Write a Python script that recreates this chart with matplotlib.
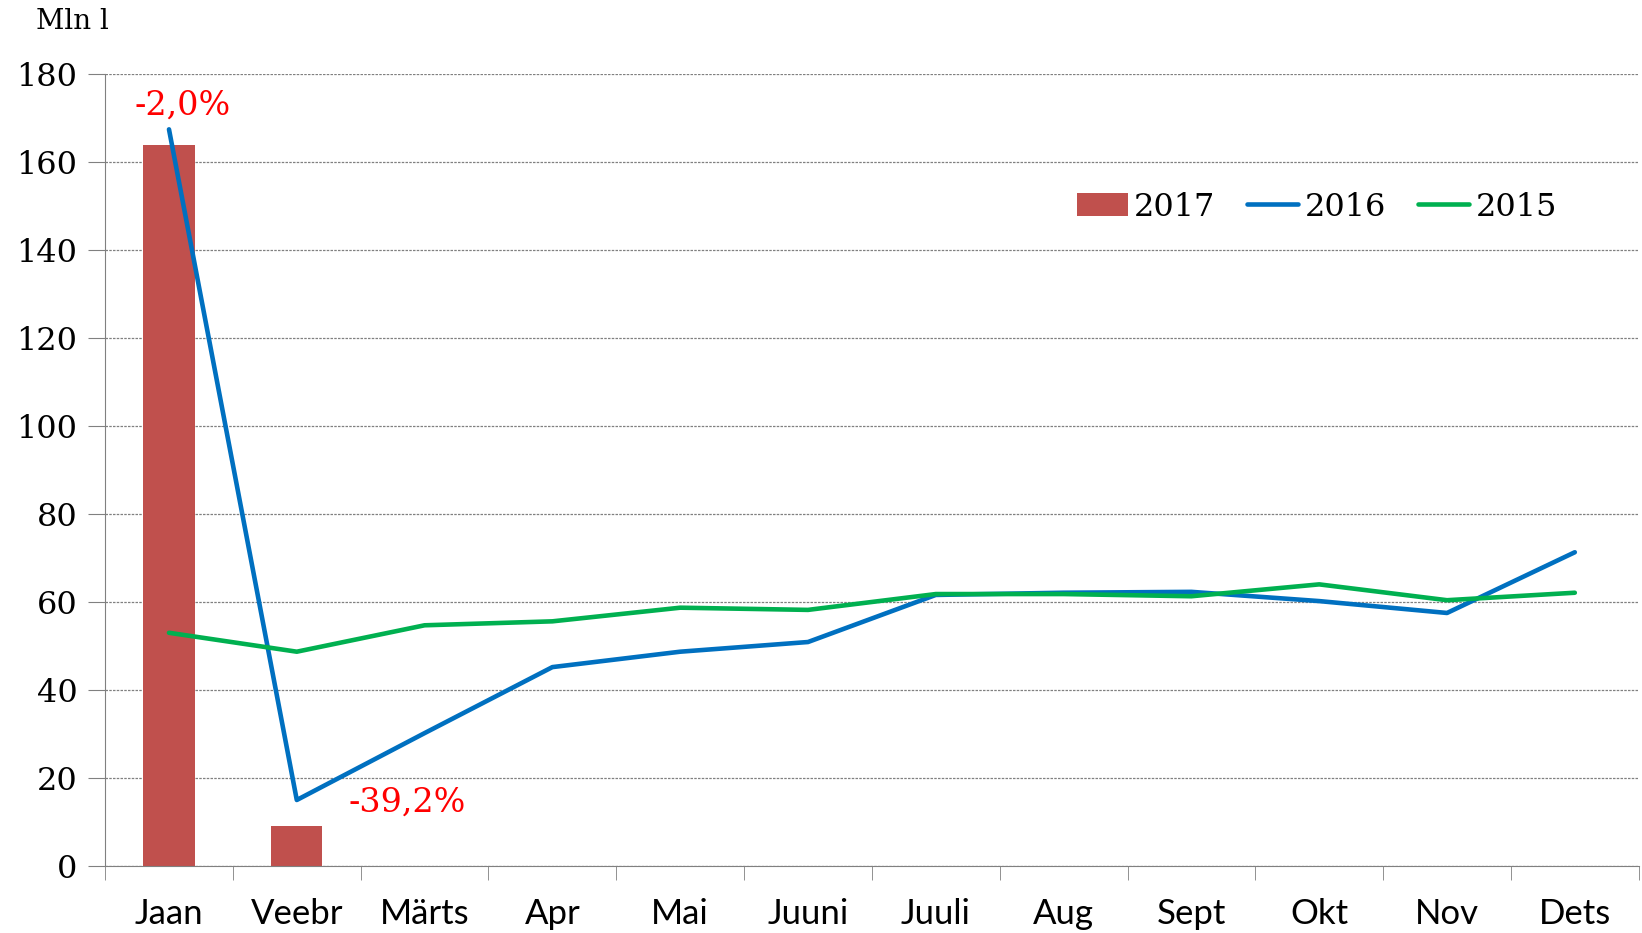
import numpy as np
import matplotlib.pyplot as plt
from matplotlib.ticker import FixedLocator

# data
months = ['Jaan', 'Veebr', 'Märts', 'Apr', 'Mai', 'Juuni', 'Juuli', 'Aug', 'Sept', 'Okt', 'Nov', 'Dets']
y2017 = [163.8, 9.0]
y2016 = [167.4, 15.0, 30.2, 45.2, 48.7, 50.9, 61.6, 62.1, 62.3, 60.2, 57.5, 71.3]
y2015 = [53.0, 48.7, 54.7, 55.6, 58.7, 58.2, 61.8, 61.8, 61.3, 64.0, 60.4, 62.1]
notes = ['-2,0%', '-39,2%']

serif = 'DejaVu Serif'
sans = 'Lato'

fig = plt.figure(figsize=(16.42, 9.33), dpi=100)
ax = fig.add_axes([0.064, 0.0718, 0.934, 0.849])

x = np.arange(len(months))
b = ax.bar(x[:len(y2017)], y2017, width=0.4, color='#C0504D', label='2017', zorder=2)
l1, = ax.plot(x, y2016, color='#0070C0', lw=3.3, label='2016', zorder=3, solid_capstyle='round')
l2, = ax.plot(x, y2015, color='#00B050', lw=3.3, label='2015', zorder=3, solid_capstyle='round')

ax.set_xlim(-0.5, 11.5)
ax.set_ylim(0, 180)
ax.set_yticks(range(0, 181, 20))
ax.yaxis.grid(True, ls=(0, (2, 1)), color='#808080', lw=0.9)
ax.set_axisbelow(True)

ax.set_xticks(x)
ax.set_xticklabels(months, fontfamily=sans, fontsize=25)
ax.xaxis.set_minor_locator(FixedLocator(np.arange(-0.5, 12, 1)))
ax.tick_params(axis='x', which='major', length=0, pad=23)
ax.tick_params(axis='x', which='minor', length=10, color='#808080', direction='out')
ax.tick_params(axis='y', length=12, color='#808080', pad=8, labelsize=23)
for lab in ax.get_yticklabels():
    lab.set_fontfamily(serif)

for s in ['top', 'right']:
    ax.spines[s].set_visible(False)
for s in ['left', 'bottom']:
    ax.spines[s].set_color('#808080')

ax.text(0.11, 172.7, notes[0], color='red', fontsize=24, fontfamily=serif, ha='center', va='center')
ax.text(1.86, 14.5, notes[1], color='red', fontsize=24, fontfamily=serif, ha='center', va='center')

fig.text(0.022, 0.977, 'Mln l', fontfamily=serif, fontsize=20, ha='left', va='center')

leg = fig.legend([b, l1, l2], ['2017', '2016', '2015'], loc='center', bbox_to_anchor=(0.802, 0.778),
                 ncol=3, frameon=False, prop={'family': serif, 'size': 23}, handlelength=1.6,
                 handletextpad=0.2, columnspacing=1.0)

fig.savefig('out.png', dpi=100)
